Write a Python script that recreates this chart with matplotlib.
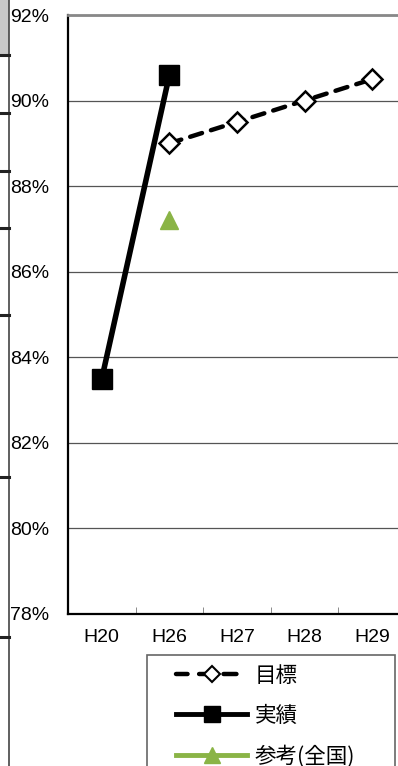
import matplotlib
matplotlib.use("Agg")
import matplotlib.pyplot as plt
from matplotlib.patches import Rectangle
from matplotlib.lines import Line2D

categories = ["H20", "H26", "H27", "H28", "H29"]
target = [None, 89.0, 89.5, 90.0, 90.5]
actual = [83.5, 90.6, None, None, None]
national = [None, 87.2, None, None, None]
yticks = [78, 80, 82, 84, 86, 88, 90, 92]
legend_labels = ["目標", "実績", "参考(全国)"]

plt.rcParams['font.family'] = ['Liberation Sans Narrow', 'Liberation Sans', 'DejaVu Sans']

W, H = 398, 766
fig = plt.figure(figsize=(W/100, H/100), dpi=100)

# left-side table remnants
fig.patches.append(Rectangle((0, 1 - 55/H), 9/W, 55/H, transform=fig.transFigure,
                             facecolor="#c8c8c8", edgecolor="none"))
fig.lines.append(Line2D([9/W, 9/W], [0, 1], transform=fig.transFigure, color="#444444", lw=1.2))
for yy in [55, 113, 171, 228, 315, 477, 637]:
    fig.lines.append(Line2D([0, 9/W], [1 - yy/H, 1 - yy/H], transform=fig.transFigure,
                            color="#222222", lw=2.2))

x0, y_top, y_bot = 68, 15, 614
cw = 67.6
ax = fig.add_axes([x0/W, 1 - y_bot/H, 5*cw/W, (y_bot - y_top)/H])

xs = list(range(len(categories)))
tx = [x for x, v in zip(xs, target) if v is not None]
tv = [v for v in target if v is not None]
ax_x = [x for x, v in zip(xs, actual) if v is not None]
av = [v for v in actual if v is not None]
nx = [x for x, v in zip(xs, national) if v is not None]
nv = [v for v in national if v is not None]

dash = (0, (2.8, 2.1))
ax.plot(tx, tv, color="black", lw=3.2, ls=dash, dash_capstyle="round",
        marker="D", markersize=10.5,
        markerfacecolor="white", markeredgecolor="black", markeredgewidth=1.8, zorder=4)
ax.plot(ax_x, av, color="black", lw=4, marker="s", markersize=14.5, zorder=5)
ax.plot(nx, nv, color="#8ab446", lw=3.5, marker="^", markersize=13, ls="none", zorder=5)

ax.set_ylim(78, 92)
ax.set_xlim(-0.5, 4.5)
ax.set_yticks(yticks)
ax.set_yticklabels([f"{v}%" for v in yticks], fontsize=14)
ax.set_xticks(xs)
ax.set_xticklabels(categories, fontsize=14)
ax.tick_params(axis="y", length=0, pad=13.5)
ax.tick_params(axis="x", which="major", length=0, pad=11)
ax.set_xticks([0.5, 1.5, 2.5, 3.5], minor=True)
ax.tick_params(axis="x", which="minor", direction="in", length=5, color="#777777")
ax.grid(axis="y", color="#555555", lw=0.9)
ax.set_axisbelow(True)
ax.spines["top"].set_color("#888888")
ax.spines["top"].set_linewidth(2.0)
ax.spines["left"].set_color("black")
ax.spines["left"].set_linewidth(1.6)
ax.spines["bottom"].set_color("black")
ax.spines["bottom"].set_linewidth(1.6)
ax.spines["right"].set_visible(False)

# legend box
fig.patches.append(Rectangle((147/W, -10/H), (395 - 147)/W, (766 - 655 + 10)/H,
                             transform=fig.transFigure, facecolor="white", edgecolor="#666666", lw=1.2))
handles = [
    Line2D([], [], color="black", lw=3.2, ls=(0.3, (2.9, 2.6)), dash_capstyle="round",
           marker="D", markersize=8,
           markerfacecolor="white", markeredgecolor="black", markeredgewidth=1.5),
    Line2D([], [], color="black", lw=3.5, marker="s", markersize=11),
    Line2D([], [], color="#8ab446", lw=3.5, marker="^", markersize=11),
]
leg = fig.legend(handles, legend_labels, loc="upper left",
                 bbox_to_anchor=(176/W, 1 - 665/H), frameon=False,
                 prop={"family": ["Noto Sans CJK JP"], "size": 15.5},
                 handlelength=3.3, handletextpad=0.35, labelspacing=0.83,
                 borderpad=0, borderaxespad=0)

fig.savefig("out.png", dpi=100)
